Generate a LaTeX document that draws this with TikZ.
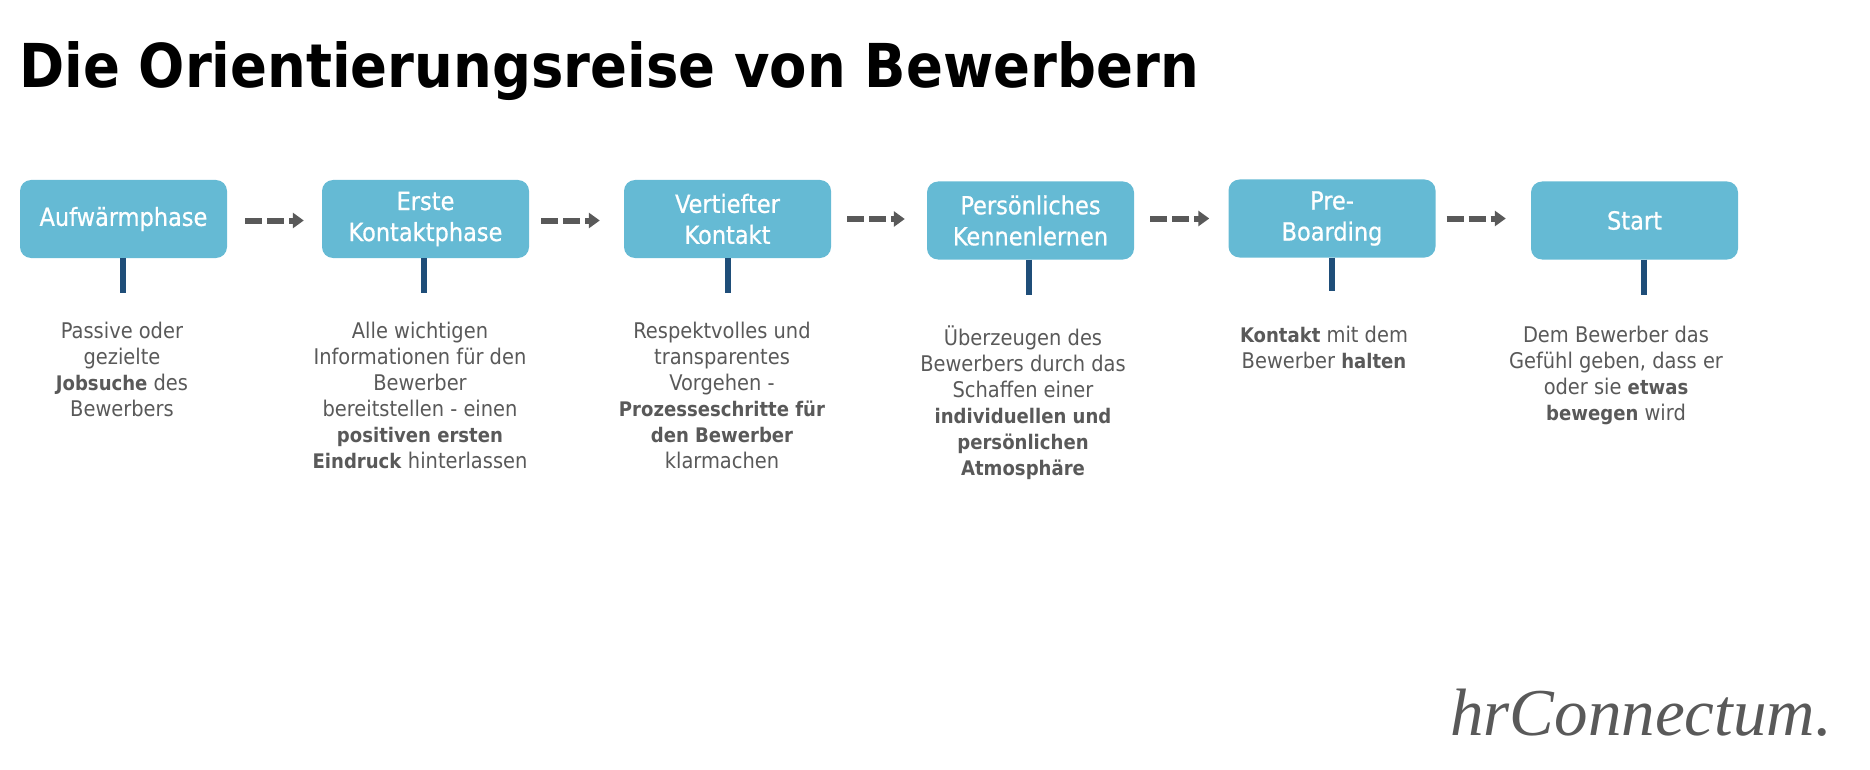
\documentclass[tikz,border=0pt]{standalone}
\usepackage{fontspec}
\setmainfont{DejaVu Sans Condensed}
\newfontfamily\boxfont[FakeBold=0.7]{DejaVu Sans Condensed}
\newfontfamily\infofont[BoldFeatures={Scale=0.93}]{DejaVu Sans Condensed}
\newfontfamily\logofont{Liberation Serif}
\usetikzlibrary{arrows.meta, positioning, calc}
\definecolor{boxblue}{HTML}{65BAD4}
\definecolor{stemblue}{HTML}{1F4E79}
\definecolor{textgrey}{HTML}{595959}

\begin{document}
\begin{tikzpicture}[
        x=1pt, y=-1pt,
        phase/.style={fill=boxblue, rounded corners=11pt, minimum width=207pt, minimum height=78pt, align=center, inner sep=0pt,
            text=white, font=\fontsize{25}{31}\boxfont},
        info/.style={anchor=north, align=center, inner sep=0pt, text=textgrey, font=\fontsize{21.6}{26}\infofont},
        arrow/.style={-{Triangle[length=11pt, width=15pt]}, line width=6pt, textgrey, dash pattern=on 17pt off 5pt},
        stem/.style={line width=6pt, stemblue}
    ]
        \useasboundingbox (0, 0) rectangle (1870, 770);

        % Title
        \node[anchor=base west, inner sep=0pt, font=\fontsize{60.5}{70}\selectfont\bfseries] (title) at (19, 88) {Die Orientierungsreise von Bewerbern};

        % Phases
        \node[phase] (warm) at (123.5, 219) {Aufwärmphase};
        \node[phase] (first) at (425.5, 219) {Erste\\Kontaktphase};
        \node[phase] (deep) at (727.5, 219) {Vertiefter\\Kontakt};
        \node[phase] (meet) at (1030.5, 220.5) {Persönliches\\Kennenlernen};
        \node[phase] (board) at (1332, 218.5) {Pre-\\Boarding};
        \node[phase] (start) at (1634.5, 220.5) {Start};

        % Descriptions
        \node[info] (warmtext) at (122, 322) {Passive oder\\gezielte\\\textbf{Jobsuche} des\\Bewerbers};
        \node[info] (firsttext) at (420, 322) {Alle wichtigen\\Informationen für den\\Bewerber\\bereitstellen - einen\\\textbf{positiven ersten}\\\textbf{Eindruck} hinterlassen};
        \node[info] (deeptext) at (722, 322) {Respektvolles und\\transparentes\\Vorgehen -\\\textbf{Prozesseschritte für}\\\textbf{den Bewerber}\\klarmachen};
        \node[info] (meettext) at (1023, 326) {Überzeugen des\\Bewerbers durch das\\Schaffen einer\\\textbf{individuellen und}\\\textbf{persönlichen}\\\textbf{Atmosphäre}};
        \node[info] (boardtext) at (1324, 326) {\textbf{Kontakt} mit dem\\Bewerber \textbf{halten}};
        \node[info] (starttext) at (1616, 326) {Dem Bewerber das\\Gefühl geben, dass er\\oder sie \textbf{etwas}\\\textbf{bewegen} wird};

        % Stems
        \coordinate (warmstem) at (123, 293);
        \coordinate (firststem) at (424, 293);
        \coordinate (deepstem) at (728, 293);
        \coordinate (meetstem) at (1029, 295);
        \coordinate (boardstem) at (1332, 291);
        \coordinate (startstem) at (1644, 295);
        \draw[stem] (warm.south -| warmstem) -- (warmstem);
        \draw[stem] (first.south -| firststem) -- (firststem);
        \draw[stem] (deep.south -| deepstem) -- (deepstem);
        \draw[stem] (meet.south -| meetstem) -- (meetstem);
        \draw[stem] (board.south -| boardstem) -- (boardstem);
        \draw[stem] (start.south -| startstem) -- (startstem);

        % Arrows
        \draw[arrow, shorten <=18pt, shorten >=18pt] ([yshift=-1.5pt]warm.east) -- ([yshift=-1.5pt]first.west);
        \draw[arrow, shorten <=12pt, shorten >=24pt] ([yshift=-1.5pt]first.east) -- ([yshift=-1.5pt]deep.west);
        \draw[arrow, shorten <=16pt, shorten >=22pt] (deep.east) -- (meet.west |- deep.east);
        \draw[arrow, shorten <=16pt, shorten >=19pt] (meet.east |- board.east) -- (board.west);
        \draw[arrow, shorten <=11pt, shorten >=25pt] (board.east) -- (start.west |- board.east);

        % Logo
        \node[anchor=base east, inner sep=0pt, text=textgrey, font=\fontsize{67}{67}\logofont\itshape] (logo) at (1832, 735) {hrConnectum.};
    \end{tikzpicture}
\end{document}
